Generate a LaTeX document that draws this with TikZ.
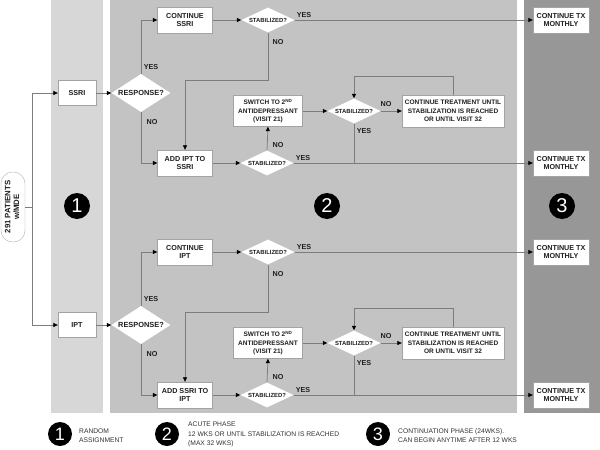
\documentclass[tikz,border=0pt]{standalone}
\usepackage{fontspec}
\setmainfont{Liberation Sans}
\usetikzlibrary{shapes.geometric,arrows.meta}
\definecolor{pone}{HTML}{D7D7D7}
\definecolor{ptwo}{HTML}{C3C3C3}
\definecolor{pthree}{HTML}{979797}
\definecolor{ln}{HTML}{7C7C7C}
\definecolor{txt}{HTML}{1E1E1E}
\definecolor{legtxt}{HTML}{333333}
\begin{document}
\begin{tikzpicture}[x=1pt,y=-1pt,
  box/.style={draw=ln!70, line width=0.3pt, fill=white, align=center, inner sep=0pt,
    text=txt, font=\fontsize{7.2}{8.4}\selectfont\bfseries},
  smallbox/.style={box, font=\fontsize{6.5}{8.6}\selectfont\bfseries},
  dia/.style={diamond, aspect=2, fill=white, inner sep=0pt, text=txt},
  resp/.style={dia, minimum width=59pt, minimum height=38pt, font=\fontsize{7.4}{8}\selectfont\bfseries},
  stab/.style={dia, minimum width=53pt, minimum height=25pt, font=\fontsize{5.9}{7}\selectfont\bfseries},
  lbl/.style={text=txt, inner sep=0pt, font=\fontsize{7.2}{8}\selectfont\bfseries},
  ph/.style={circle, fill=black, text=white, inner sep=0pt, minimum size=26pt, font=\fontsize{20}{20}\selectfont},
  legc/.style={circle, fill=black, text=white, inner sep=0pt, minimum size=24pt, font=\fontsize{18}{18}\selectfont},
  legt/.style={anchor=west, align=left, inner sep=0pt, text=legtxt, font=\fontsize{6.7}{9.5}\selectfont},
  ln/.style={draw=ln, line width=0.75pt},
  arr/.style={ln, -{Triangle[length=4.5pt,width=4pt,color=black]}}
]
\useasboundingbox (0,0) rectangle (600,450);
% panels
\fill[pone] (51,0) rectangle (103,413);
\fill[ptwo] (110,0) rectangle (517,413);
\fill[pthree] (524,0) rectangle (600,413);

% phase circles
\node[ph] (c1) at (77,206) {1};
\node[ph] (c2) at (327,206) {2};
\node[ph] (c3) at (562,206) {3};

% patients
\node[draw=ln!70, line width=0.3pt, fill=white, rounded corners=11.5pt, minimum width=24pt, minimum height=70pt,
  inner sep=0pt, text=txt, font=\fontsize{7.8}{8.6}\selectfont\bfseries] (pill) at (13,207)
  {\rotatebox{90}{\begin{tabular}{@{}c@{}}291 PATIENTS\\w/MDE\end{tabular}}};
\coordinate (split) at (32,207);

% start boxes
\node[box, minimum width=38pt, minimum height=25pt] (ssri) at (77,93) {SSRI};
\node[box, minimum width=38pt, minimum height=25pt] (ipt) at (77,325) {IPT};

% ===== upper branch =====
\node[resp] (resp1) at (141,93) {RESPONSE?};
\node[box, minimum width=55pt, minimum height=26pt] (cont1) at (185,20) {CONTINUE\\SSRI};
\node[box, minimum width=55pt, minimum height=26pt] (add1) at (185,163) {ADD IPT TO\\SSRI};
\node[stab] (sa1) at (268,20) {STABILIZED?};
\node[stab] (sb1) at (267,163) {STABILIZED?};
\node[smallbox, minimum width=69pt, minimum height=31pt] (sw1) at (268,111) {SWITCH TO 2\textsuperscript{ND}\\ANTIDEPRESSANT\\(VISIT 21)};
\node[stab] (sc1) at (354,111) {STABILIZED?};
\node[smallbox, minimum width=102pt, minimum height=32pt] (ct1) at (453,111) {CONTINUE TREATMENT UNTIL\\STABILIZATION IS REACHED\\OR UNTIL VISIT 32};
\node[box, minimum width=56pt, minimum height=26pt] (tx1) at (561,20) {CONTINUE TX\\MONTHLY};
\node[box, minimum width=56pt, minimum height=26pt] (tx2) at (561,163) {CONTINUE TX\\MONTHLY};
\coordinate (k1) at (268,80);
\coordinate (k2) at (453,76);
\coordinate (j1) at (354,163);

% ===== lower branch =====
\node[resp] (resp2) at (141,325) {RESPONSE?};
\node[box, minimum width=55pt, minimum height=26pt] (cont2) at (185,252) {CONTINUE\\IPT};
\node[box, minimum width=55pt, minimum height=26pt] (add2) at (185,395) {ADD SSRI TO\\IPT};
\node[stab] (sa2) at (268,252) {STABILIZED?};
\node[stab] (sb2) at (267,395) {STABILIZED?};
\node[smallbox, minimum width=69pt, minimum height=31pt] (sw2) at (268,343) {SWITCH TO 2\textsuperscript{ND}\\ANTIDEPRESSANT\\(VISIT 21)};
\node[stab] (sc2) at (354,343) {STABILIZED?};
\node[smallbox, minimum width=102pt, minimum height=32pt] (ct2) at (453,343) {CONTINUE TREATMENT UNTIL\\STABILIZATION IS REACHED\\OR UNTIL VISIT 32};
\node[box, minimum width=56pt, minimum height=26pt] (tx3) at (561,252) {CONTINUE TX\\MONTHLY};
\node[box, minimum width=56pt, minimum height=26pt] (tx4) at (561,395) {CONTINUE TX\\MONTHLY};
\coordinate (k3) at (268,312);
\coordinate (k4) at (453,308);
\coordinate (j2) at (354,395);

% connectors: randomisation
\draw[ln] (pill.east) -- (split);
\draw[arr] (split) |- (ssri.west);
\draw[arr] (split) |- (ipt.west);
\draw[arr] (ssri) -- (resp1);
\draw[arr] (ipt) -- (resp2);

% upper
\draw[arr] (resp1.north) |- (cont1.west);
\draw[arr] (resp1.south) |- (add1.west);
\draw[arr] (cont1) -- (sa1);
\draw[arr] (sa1) -- (tx1);
\draw[arr] (sa1.south) -- (k1) -| (add1.north);
\draw[arr] (add1) -- (sb1);
\draw[arr] (sb1.north) -- (sw1.south);
\draw[arr] (sb1) -- (tx2);
\draw[arr] (sw1) -- (sc1);
\draw[arr] (sc1) -- (ct1);
\draw[arr] (ct1.north) -- (k2) -| (sc1.north);
\draw[ln] (sc1.south) -- (j1);

% lower
\draw[arr] (resp2.north) |- (cont2.west);
\draw[arr] (resp2.south) |- (add2.west);
\draw[arr] (cont2) -- (sa2);
\draw[arr] (sa2) -- (tx3);
\draw[arr] (sa2.south) -- (k3) -| (add2.north);
\draw[arr] (add2) -- (sb2);
\draw[arr] (sb2.north) -- (sw2.south);
\draw[arr] (sb2) -- (tx4);
\draw[arr] (sw2) -- (sc2);
\draw[arr] (sc2) -- (ct2);
\draw[arr] (ct2.north) -- (k4) -| (sc2.north);
\draw[ln] (sc2.south) -- (j2);

% labels upper
\node[lbl] (y1) at (151,67) {YES};
\node[lbl] (n1) at (152,122) {NO};
\node[lbl] (y2) at (304,15) {YES};
\node[lbl] (n2) at (278,42) {NO};
\node[lbl] (n3) at (278,145) {NO};
\node[lbl] (y3) at (303,158) {YES};
\node[lbl] (n4) at (386,104) {NO};
\node[lbl] (y4) at (364,131) {YES};
% labels lower
\node[lbl] (y5) at (151,299) {YES};
\node[lbl] (n5) at (152,354) {NO};
\node[lbl] (y6) at (304,247) {YES};
\node[lbl] (n6) at (278,274) {NO};
\node[lbl] (n7) at (278,377) {NO};
\node[lbl] (y7) at (303,390) {YES};
\node[lbl] (n8) at (386,336) {NO};
\node[lbl] (y8) at (364,363) {YES};

% legend
\node[legc] (l1) at (60,434) {1};
\node[legt] (lt1) at (79,435.5) {RANDOM\\ASSIGNMENT};
\node[legc] (l2) at (167,434) {2};
\node[legt] (lt2) at (188,434.5) {ACUTE PHASE\\12 WKS OR UNTIL STABILIZATION IS REACHED\\(MAX 32 WKS)};
\node[legc] (l3) at (378,434) {3};
\node[legt] (lt3) at (398,435.5) {CONTINUATION PHASE (24WKS).\\CAN BEGIN ANYTIME AFTER 12 WKS};
\end{tikzpicture}
\end{document}
